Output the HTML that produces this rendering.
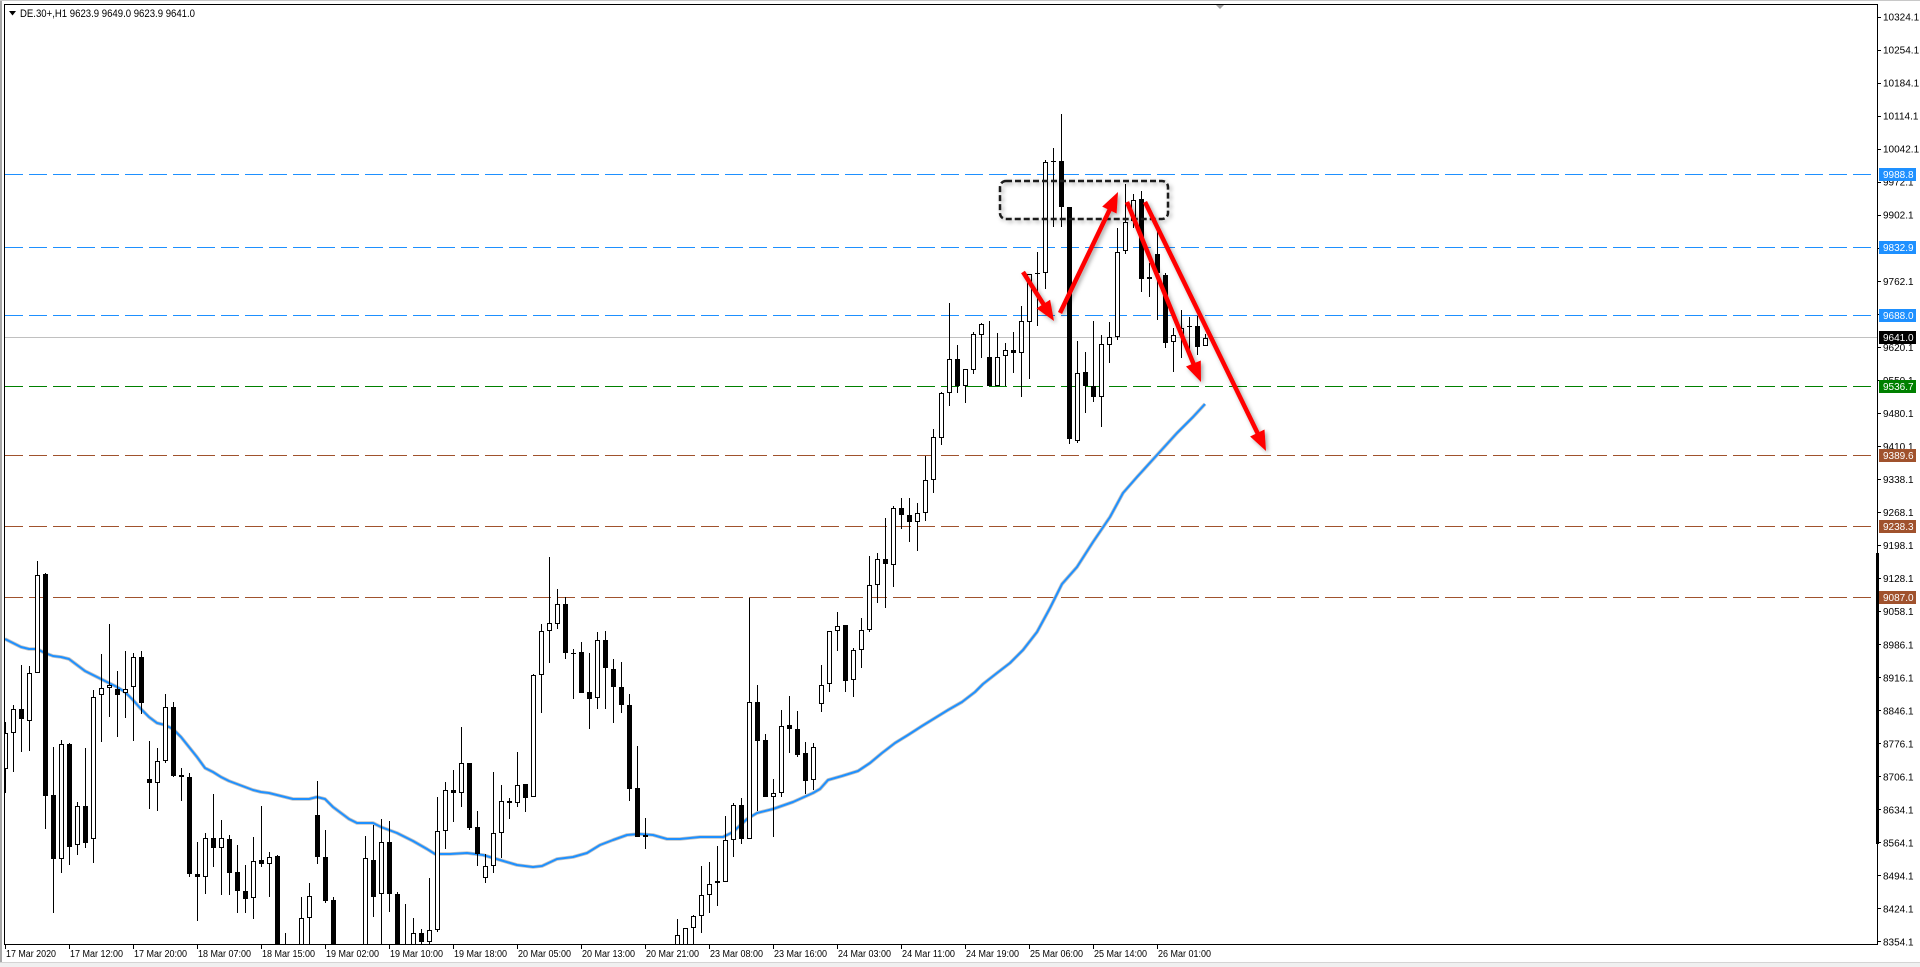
<!DOCTYPE html>
<html><head><meta charset="utf-8"><style>
html,body{margin:0;padding:0;background:#fff;width:1920px;height:967px;overflow:hidden}
svg{display:block}
text{font-family:"Liberation Sans",Arial,sans-serif}
</style></head><body>
<svg width="1920" height="967" viewBox="0 0 1920 967" xmlns="http://www.w3.org/2000/svg">
<defs>
<clipPath id="cp"><rect x="5" y="5" width="1872" height="939"/></clipPath>
<filter id="sh" x="-20%" y="-20%" width="140%" height="140%"><feDropShadow dx="2" dy="2" stdDeviation="2" flood-color="#000" flood-opacity="0.35"/></filter>
</defs>
<rect x="0" y="0" width="1920" height="967" fill="#fff"/>
<rect x="0" y="0" width="2" height="963" fill="#a8a8a8"/>
<rect x="0" y="0" width="1920" height="1" fill="#c8c8c8"/>
<rect x="0" y="963" width="1920" height="4" fill="#f0f0f0"/>
<rect x="0" y="962" width="1920" height="1" fill="#d4d4d4"/>
<g shape-rendering="crispEdges" stroke="#000" stroke-width="1">
<line x1="4" y1="4.5" x2="1878" y2="4.5"/>
<line x1="4.5" y1="4" x2="4.5" y2="945"/>
<line x1="1877.5" y1="4" x2="1877.5" y2="945"/>
<line x1="4" y1="944.5" x2="1878" y2="944.5"/>
</g>
<rect x="1876" y="553" width="3" height="291" fill="#000"/>
<polygon points="1216,5 1224,5 1220,9" fill="#a0a0a0"/>

<g clip-path="url(#cp)">
<g shape-rendering="crispEdges" stroke-width="1" fill="none">
<line x1="5" y1="174.5" x2="1877" y2="174.5" stroke="#1e90ff" stroke-dasharray="18 6"/>
<line x1="5" y1="247.5" x2="1877" y2="247.5" stroke="#1e90ff" stroke-dasharray="18 6"/>
<line x1="5" y1="315.5" x2="1877" y2="315.5" stroke="#1e90ff" stroke-dasharray="18 6"/>
<line x1="4" y1="337.5" x2="1877" y2="337.5" stroke="#c0c0c0"/>
<line x1="5" y1="386.5" x2="1877" y2="386.5" stroke="#008000" stroke-dasharray="18 6"/>
<line x1="5" y1="455.5" x2="1877" y2="455.5" stroke="#a0522d" stroke-dasharray="18 6"/>
<line x1="5" y1="526.5" x2="1877" y2="526.5" stroke="#a0522d" stroke-dasharray="18 6"/>
<line x1="5" y1="597.5" x2="1877" y2="597.5" stroke="#a0522d" stroke-dasharray="18 6"/>
</g>
<polyline fill="none" stroke="#c4c4c4" stroke-width="3.6" stroke-linejoin="round" points="5,639 13,643 21,647 29,649 37,649 45,653 53,656 61,657 69,659 77,665 85,671 93,675 101,679 109,683 117,687 125,692 133,700 141,709 149,717 157,723 165,725 173,729 181,737 189,747 197,757 205,768 213,772 221,777 229,781 237,784 245,787 253,790 261,792 269,793 277,795 285,797 293,799 301,799 309,799 317,797 325,799 333,807 341,813 349,819 357,823 365,823 373,823 381,827 389,830 397,833 405,837 413,841 427,849 435,854 450,854 467,853 483,855 500,860 517,865 533,867 542,866 557,859 573,857 587,853 600,845 613,840 627,835 640,834 653,835 667,839 680,839 700,837 723,837 733,832 747,819 757,813 773,809 793,802 813,793 820,789 828,780 842,776 858,771 870,763 882,753 895,743 908,735 922,726 935,718 948,710 962,702 975,692 983,684 997,673 1010,663 1023,650 1037,632 1050,608 1062,584 1077,567 1093,542 1110,517 1123,493 1137,477 1157,455 1177,433 1193,417 1205,404"/>
<polyline fill="none" stroke="#1e90ff" stroke-width="2" stroke-linejoin="round" points="5,639 13,643 21,647 29,649 37,649 45,653 53,656 61,657 69,659 77,665 85,671 93,675 101,679 109,683 117,687 125,692 133,700 141,709 149,717 157,723 165,725 173,729 181,737 189,747 197,757 205,768 213,772 221,777 229,781 237,784 245,787 253,790 261,792 269,793 277,795 285,797 293,799 301,799 309,799 317,797 325,799 333,807 341,813 349,819 357,823 365,823 373,823 381,827 389,830 397,833 405,837 413,841 427,849 435,854 450,854 467,853 483,855 500,860 517,865 533,867 542,866 557,859 573,857 587,853 600,845 613,840 627,835 640,834 653,835 667,839 680,839 700,837 723,837 733,832 747,819 757,813 773,809 793,802 813,793 820,789 828,780 842,776 858,771 870,763 882,753 895,743 908,735 922,726 935,718 948,710 962,702 975,692 983,684 997,673 1010,663 1023,650 1037,632 1050,608 1062,584 1077,567 1093,542 1110,517 1123,493 1137,477 1157,455 1177,433 1193,417 1205,404"/>
<path shape-rendering="crispEdges" stroke="#000" stroke-width="1" fill="none" d="M5.5 722V793M13.5 705V772M21.5 665V752M29.5 666V751M37.5 561V673M45.5 573V829M53.5 747V913M61.5 740V873M69.5 743V865M77.5 802V855M85.5 748V848M93.5 690V863M101.5 654V742M109.5 624V717M117.5 671V737M125.5 651V718M133.5 653V741M141.5 651V714M149.5 741V809M157.5 748V811M165.5 694V763M173.5 702V777M181.5 768V801M189.5 773V877M197.5 842V921M205.5 833V894M213.5 794V867M221.5 820V895M229.5 835V895M237.5 845V913M245.5 865V913M253.5 837V919M261.5 806V867M269.5 852V897M277.5 855V990M285.5 933V1000M301.5 897V1000M309.5 883V960M317.5 781V864M325.5 830V903M333.5 897V1000M365.5 836V1000M373.5 825V917M381.5 819V960M389.5 821V912M397.5 892V1000M405.5 904V1000M413.5 918V970M421.5 929V950M429.5 878V950M437.5 797V932M445.5 782V849M453.5 770V822M461.5 727V807M469.5 763V830M477.5 811V866M485.5 854V883M493.5 772V873M501.5 785V858M509.5 798V819M517.5 752V807M525.5 784V812M533.5 674V797M541.5 624V713M549.5 557V663M557.5 589V629M565.5 597V659M573.5 649V699M581.5 642V693M589.5 653V729M597.5 632V709M605.5 631V709M613.5 659V723M621.5 662V713M629.5 694V801M637.5 746V837M645.5 818V849M677.5 919V1000M685.5 928V1000M693.5 915V960M701.5 866V933M709.5 862V913M717.5 846V906M725.5 816V882M733.5 803V857M741.5 798V844M749.5 598V839M757.5 685V811M765.5 734V797M773.5 779V837M781.5 710V797M789.5 696V753M797.5 711V757M805.5 742V794M813.5 743V790M821.5 665V712M829.5 631V692M837.5 612V651M845.5 625V692M853.5 648V697M861.5 618V668M869.5 556V632M877.5 553V603M885.5 518V608M893.5 506V587M901.5 498V529M909.5 498V542M917.5 503V551M925.5 456V521M933.5 429V493M941.5 392V445M949.5 303V406M957.5 345V393M965.5 369V403M973.5 332V374M981.5 323V358M989.5 321V386M997.5 333V386M1005.5 343V386M1013.5 332V373M1021.5 306V397M1029.5 274V379M1037.5 252V326M1045.5 160V289M1053.5 148V227M1061.5 114V227M1069.5 207V444M1077.5 341V443M1085.5 352V413M1093.5 321V402M1101.5 335V427M1109.5 322V363M1117.5 228V340M1125.5 184V254M1133.5 194V228M1141.5 191V292M1149.5 263V297M1157.5 230V320M1165.5 273V348M1173.5 328V372M1181.5 310V358M1189.5 317V358M1197.5 316V355M1205.5 334V346"/>
<path shape-rendering="crispEdges" fill="#000" d="M19 709h5V719h-5zM43 574h5V796h-5zM51 795h5V859h-5zM67 744h5V847h-5zM83 806h5V843h-5zM115 689h5V695h-5zM139 657h5V703h-5zM147 779h5V783h-5zM171 707h5V776h-5zM179 775h5V777h-5zM187 777h5V874h-5zM195 874h5V877h-5zM211 838h5V848h-5zM227 839h5V873h-5zM235 872h5V891h-5zM243 891h5V899h-5zM259 860h5V864h-5zM275 856h5V970h-5zM283 950h5V990h-5zM315 815h5V857h-5zM323 857h5V901h-5zM331 900h5V990h-5zM371 860h5V897h-5zM387 842h5V894h-5zM395 894h5V990h-5zM403 960h5V990h-5zM419 933h5V942h-5zM451 790h5V793h-5zM467 763h5V828h-5zM475 827h5V854h-5zM507 801h5V803h-5zM523 784h5V798h-5zM563 604h5V653h-5zM571 653h5V654h-5zM579 652h5V693h-5zM587 692h5V699h-5zM603 640h5V668h-5zM611 669h5V687h-5zM619 687h5V705h-5zM627 705h5V789h-5zM635 788h5V837h-5zM643 835h5V837h-5zM739 805h5V839h-5zM755 702h5V741h-5zM763 740h5V797h-5zM787 725h5V729h-5zM795 729h5V755h-5zM803 753h5V781h-5zM843 625h5V681h-5zM883 559h5V564h-5zM899 508h5V515h-5zM907 515h5V522h-5zM955 359h5V386h-5zM987 357h5V386h-5zM1011 350h5V353h-5zM1035 273h5V274h-5zM1051 161h5V162h-5zM1059 161h5V207h-5zM1067 207h5V439h-5zM1083 372h5V386h-5zM1091 386h5V397h-5zM1139 199h5V279h-5zM1155 254h5V273h-5zM1163 275h5V343h-5zM1187 326h5V327h-5zM1195 326h5V347h-5z"/>
<path shape-rendering="crispEdges" fill="#fff" stroke="#000" stroke-width="1" d="M3.5 733.5h4V768.5h-4zM11.5 709.5h4V732.5h-4zM27.5 673.5h4V720.5h-4zM35.5 575.5h4V672.5h-4zM59.5 744.5h4V858.5h-4zM75.5 806.5h4V844.5h-4zM91.5 697.5h4V838.5h-4zM99.5 688.5h4V694.5h-4zM107.5 685.5h4V687.5h-4zM123.5 689.5h4V692.5h-4zM131.5 657.5h4V686.5h-4zM155.5 761.5h4V782.5h-4zM163.5 707.5h4V760.5h-4zM203.5 838.5h4V876.5h-4zM219.5 838.5h4V847.5h-4zM251.5 861.5h4V897.5h-4zM267.5 857.5h4V863.5h-4zM299.5 918.5h4V989.5h-4zM307.5 896.5h4V917.5h-4zM363.5 858.5h4V989.5h-4zM379.5 842.5h4V893.5h-4zM411.5 933.5h4V959.5h-4zM427.5 930.5h4V941.5h-4zM435.5 831.5h4V929.5h-4zM443.5 790.5h4V830.5h-4zM459.5 763.5h4V792.5h-4zM483.5 866.5h4V877.5h-4zM491.5 833.5h4V865.5h-4zM499.5 801.5h4V832.5h-4zM515.5 785.5h4V802.5h-4zM531.5 675.5h4V796.5h-4zM539.5 631.5h4V674.5h-4zM547.5 623.5h4V630.5h-4zM555.5 604.5h4V623.5h-4zM595.5 640.5h4V697.5h-4zM675.5 935.5h4V989.5h-4zM683.5 928.5h4V989.5h-4zM691.5 916.5h4V927.5h-4zM699.5 895.5h4V915.5h-4zM707.5 884.5h4V894.5h-4zM715.5 881.5h4V882.5h-4zM723.5 840.5h4V881.5h-4zM731.5 805.5h4V839.5h-4zM747.5 702.5h4V838.5h-4zM771.5 793.5h4V796.5h-4zM779.5 726.5h4V792.5h-4zM811.5 747.5h4V779.5h-4zM819.5 685.5h4V703.5h-4zM827.5 631.5h4V683.5h-4zM835.5 626.5h4V630.5h-4zM851.5 650.5h4V679.5h-4zM859.5 630.5h4V649.5h-4zM867.5 585.5h4V629.5h-4zM875.5 559.5h4V584.5h-4zM891.5 508.5h4V564.5h-4zM915.5 513.5h4V521.5h-4zM923.5 480.5h4V512.5h-4zM931.5 437.5h4V479.5h-4zM939.5 393.5h4V437.5h-4zM947.5 359.5h4V392.5h-4zM963.5 369.5h4V385.5h-4zM971.5 334.5h4V369.5h-4zM979.5 324.5h4V334.5h-4zM995.5 357.5h4V385.5h-4zM1003.5 350.5h4V355.5h-4zM1019.5 321.5h4V352.5h-4zM1027.5 274.5h4V321.5h-4zM1043.5 162.5h4V272.5h-4zM1075.5 373.5h4V440.5h-4zM1099.5 344.5h4V396.5h-4zM1107.5 337.5h4V344.5h-4zM1115.5 252.5h4V336.5h-4zM1123.5 222.5h4V250.5h-4zM1131.5 200.5h4V220.5h-4zM1147.5 277.5h4V278.5h-4zM1171.5 335.5h4V341.5h-4zM1179.5 328.5h4V334.5h-4zM1203.5 338.5h4V345.5h-4z"/>
<rect x="1000" y="181" width="168" height="38" rx="6" ry="6" fill="none" stroke="#1a1a1a" stroke-width="2.5" stroke-dasharray="6 3" filter="url(#sh)"/>
<g filter="url(#sh)">
<line x1="1023" y1="272" x2="1044" y2="305" stroke="#ff0000" stroke-width="4.5"/>
<polygon points="1054,321 1036.5,308.4 1050.1,299.8" fill="#ff0000"/>
<line x1="1060" y1="313" x2="1110" y2="209" stroke="#ff0000" stroke-width="4.5"/>
<polygon points="1118,192 1116.6,213.5 1102.2,206.6" fill="#ff0000"/>
<line x1="1127" y1="202" x2="1194" y2="365" stroke="#ff0000" stroke-width="4.5"/>
<polygon points="1201,382 1186,366.5 1200.8,360.5" fill="#ff0000"/>
<line x1="1145" y1="202" x2="1258" y2="434" stroke="#ff0000" stroke-width="4.5"/>
<polygon points="1266,451 1250.1,436.5 1264.5,429.5" fill="#ff0000"/>
</g>
</g>

<polygon points="9,11 16,11 12.5,15.5" fill="#000"/>
<text x="20" y="17" font-size="11" textLength="175" lengthAdjust="spacingAndGlyphs" fill="#000">DE.30+,H1  9623.9 9649.0 9623.9 9641.0</text>

<path shape-rendering="crispEdges" stroke="#000" stroke-width="1" d="M1877 17.5h4M1877 50.5h4M1877 83.5h4M1877 116.5h4M1877 149.5h4M1877 182.5h4M1877 215.5h4M1877 248.5h4M1877 281.5h4M1877 314.5h4M1877 347.5h4M1877 380.5h4M1877 413.5h4M1877 446.5h4M1877 479.5h4M1877 512.5h4M1877 545.5h4M1877 578.5h4M1877 611.5h4M1877 644.5h4M1877 677.5h4M1877 710.5h4M1877 743.5h4M1877 776.5h4M1877 809.5h4M1877 842.5h4M1877 875.5h4M1877 908.5h4M1877 941.5h4"/>
<g font-size="10" fill="#000">
<text x="1883" y="20.5">10324.1</text>
<text x="1883" y="53.5">10254.1</text>
<text x="1883" y="86.6">10184.1</text>
<text x="1883" y="119.6">10114.1</text>
<text x="1883" y="152.7">10042.1</text>
<text x="1883" y="185.7">9972.1</text>
<text x="1883" y="218.7">9902.1</text>
<text x="1883" y="251.8">9832.1</text>
<text x="1883" y="284.8">9762.1</text>
<text x="1883" y="317.9">9692.1</text>
<text x="1883" y="350.9">9620.1</text>
<text x="1883" y="383.9">9550.1</text>
<text x="1883" y="417">9480.1</text>
<text x="1883" y="450">9410.1</text>
<text x="1883" y="483.1">9338.1</text>
<text x="1883" y="516.1">9268.1</text>
<text x="1883" y="549.1">9198.1</text>
<text x="1883" y="582.2">9128.1</text>
<text x="1883" y="615.2">9058.1</text>
<text x="1883" y="648.3">8986.1</text>
<text x="1883" y="681.3">8916.1</text>
<text x="1883" y="714.3">8846.1</text>
<text x="1883" y="747.4">8776.1</text>
<text x="1883" y="780.4">8706.1</text>
<text x="1883" y="813.5">8634.1</text>
<text x="1883" y="846.5">8564.1</text>
<text x="1883" y="879.5">8494.1</text>
<text x="1883" y="912.6">8424.1</text>
<text x="1883" y="945.6">8354.1</text>
</g>
<g shape-rendering="crispEdges">
<rect x="1879" y="168" width="37" height="13" fill="#1e90ff"/>
<rect x="1879" y="241" width="37" height="13" fill="#1e90ff"/>
<rect x="1879" y="309" width="37" height="13" fill="#1e90ff"/>
<rect x="1879" y="331" width="37" height="13" fill="#000"/>
<rect x="1879" y="380" width="37" height="13" fill="#008000"/>
<rect x="1879" y="449" width="37" height="13" fill="#a0522d"/>
<rect x="1879" y="520" width="37" height="13" fill="#a0522d"/>
<rect x="1879" y="591" width="37" height="13" fill="#a0522d"/>
</g>
<g font-size="10" fill="#fff">
<text x="1883" y="178">9988.8</text>
<text x="1883" y="251">9832.9</text>
<text x="1883" y="319">9688.0</text>
<text x="1883" y="341">9641.0</text>
<text x="1883" y="390">9536.7</text>
<text x="1883" y="459">9389.6</text>
<text x="1883" y="530">9238.3</text>
<text x="1883" y="601">9087.0</text>
</g>

<path shape-rendering="crispEdges" stroke="#000" stroke-width="1" d="M5.5 944V949M69.5 944V949M133.5 944V949M197.5 944V949M261.5 944V949M325.5 944V949M389.5 944V949M453.5 944V949M517.5 944V949M581.5 944V949M645.5 944V949M709.5 944V949M773.5 944V949M837.5 944V949M901.5 944V949M965.5 944V949M1029.5 944V949M1093.5 944V949M1157.5 944V949"/>
<g font-size="10" fill="#000">
<text x="6" y="957" textLength="50" lengthAdjust="spacingAndGlyphs">17 Mar 2020</text>
<text x="70" y="957" textLength="53" lengthAdjust="spacingAndGlyphs">17 Mar 12:00</text>
<text x="134" y="957" textLength="53" lengthAdjust="spacingAndGlyphs">17 Mar 20:00</text>
<text x="198" y="957" textLength="53" lengthAdjust="spacingAndGlyphs">18 Mar 07:00</text>
<text x="262" y="957" textLength="53" lengthAdjust="spacingAndGlyphs">18 Mar 15:00</text>
<text x="326" y="957" textLength="53" lengthAdjust="spacingAndGlyphs">19 Mar 02:00</text>
<text x="390" y="957" textLength="53" lengthAdjust="spacingAndGlyphs">19 Mar 10:00</text>
<text x="454" y="957" textLength="53" lengthAdjust="spacingAndGlyphs">19 Mar 18:00</text>
<text x="518" y="957" textLength="53" lengthAdjust="spacingAndGlyphs">20 Mar 05:00</text>
<text x="582" y="957" textLength="53" lengthAdjust="spacingAndGlyphs">20 Mar 13:00</text>
<text x="646" y="957" textLength="53" lengthAdjust="spacingAndGlyphs">20 Mar 21:00</text>
<text x="710" y="957" textLength="53" lengthAdjust="spacingAndGlyphs">23 Mar 08:00</text>
<text x="774" y="957" textLength="53" lengthAdjust="spacingAndGlyphs">23 Mar 16:00</text>
<text x="838" y="957" textLength="53" lengthAdjust="spacingAndGlyphs">24 Mar 03:00</text>
<text x="902" y="957" textLength="53" lengthAdjust="spacingAndGlyphs">24 Mar 11:00</text>
<text x="966" y="957" textLength="53" lengthAdjust="spacingAndGlyphs">24 Mar 19:00</text>
<text x="1030" y="957" textLength="53" lengthAdjust="spacingAndGlyphs">25 Mar 06:00</text>
<text x="1094" y="957" textLength="53" lengthAdjust="spacingAndGlyphs">25 Mar 14:00</text>
<text x="1158" y="957" textLength="53" lengthAdjust="spacingAndGlyphs">26 Mar 01:00</text>
</g>
</svg>
</body></html>
